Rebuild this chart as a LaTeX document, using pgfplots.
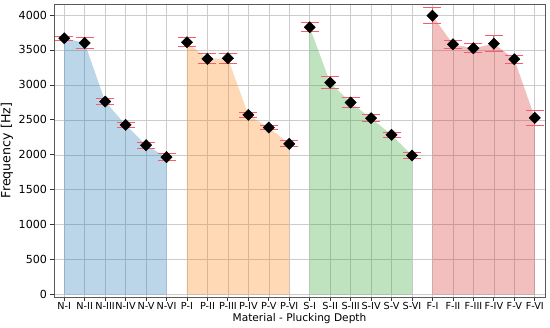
\documentclass[border=0pt]{standalone}
\usepackage{pgfplots}
\pgfplotsset{compat=1.18}
\usepackage{fontspec}
\setmainfont{DejaVu Sans}
\definecolor{tabblue}{HTML}{1F77B4}
\definecolor{taborange}{HTML}{FF7F0E}
\definecolor{tabgreen}{HTML}{2CA02C}
\definecolor{tabred}{HTML}{D62728}
\definecolor{errc}{HTML}{F0606E}
\begin{document}
\begin{tikzpicture}
\useasboundingbox (-54bp,-31bp) rectangle (496bp,297bp);
\begin{axis}[
  scale only axis, width=491bp, height=293bp,
  xmin=-0.5, xmax=23.5, ymin=-33, ymax=4157,
  xtick={0,...,23},
  xticklabels={N-I,N-II,N-III,N-IV,N-V,N-VI,P-I,P-II,P-III,P-IV,P-V,P-VI,S-I,S-II,S-III,S-IV,S-V,S-VI,F-I,F-II,F-III,F-IV,F-V,F-VI},
  ytick={0,500,...,4000},
  /pgf/number format/assume math mode=true,
  /pgf/number format/set thousands separator={},
  xticklabel style={font=\fontsize{9.7bp}{10bp}\selectfont, inner sep=1.5bp},
  yticklabel style={font=\fontsize{11.1bp}{12bp}\selectfont},
  xlabel={Material - Plucking Depth},
  ylabel={Frequency [Hz]},
  xlabel style={font=\fontsize{10.6bp}{12bp}\selectfont, yshift=1bp},
  ylabel style={font=\fontsize{12.6bp}{13bp}\selectfont, yshift=-1bp},
  grid=major,
  grid style={gray!40, line width=0.6bp},
  axis line style={black!65, line width=0.8bp},
  tick align=outside, xtick pos=left, ytick pos=left,
  major tick length=3.5bp,
  tick style={black!80, line width=0.8bp},
]
\addplot[fill=tabblue, fill opacity=0.3, draw=none] coordinates {(0,0) (0,3667) (1,3600) (2,2762) (3,2429) (4,2138) (5,1967) (5,0)} -- cycle;
\addplot[fill=taborange, fill opacity=0.3, draw=none] coordinates {(6,0) (6,3610) (7,3371) (8,3381) (9,2571) (10,2390) (11,2157) (11,0)} -- cycle;
\addplot[fill=tabgreen, fill opacity=0.3, draw=none] coordinates {(12,0) (12,3824) (13,3033) (14,2748) (15,2524) (16,2286) (17,1990) (17,0)} -- cycle;
\addplot[fill=tabred, fill opacity=0.3, draw=none] coordinates {(18,0) (18,3990) (19,3581) (20,3524) (21,3590) (22,3367) (23,2529) (23,0)} -- cycle;
\addplot[only marks, mark=square*, mark size=4bp, mark options={rotate=45, fill=black, draw=black},
  error bars/.cd, y dir=both, y explicit,
  error bar style={errc, line width=1bp},
  error mark options={rotate=90, draw=errc, color=errc, mark size=9bp, line width=1bp}]
 coordinates {
 (0,3667) +- (0,30)
 (1,3600) +- (0,79)
 (2,2762) +- (0,48)
 (3,2429) +- (0,36)
 (4,2138) +- (0,43)
 (5,1967) +- (0,48)
 (6,3610) +- (0,62)
 (7,3371) +- (0,71)
 (8,3381) +- (0,74)
 (9,2571) +- (0,40)
 (10,2390) +- (0,26)
 (11,2157) +- (0,43)
 (12,3824) +- (0,64)
 (13,3033) +- (0,83)
 (14,2748) +- (0,71)
 (15,2524) +- (0,52)
 (16,2286) +- (0,38)
 (17,1990) +- (0,48)
 (18,3990) +- (0,114)
 (19,3581) +- (0,57)
 (20,3524) +- (0,62)
 (21,3590) +- (0,114)
 (22,3367) +- (0,57)
 (23,2529) +- (0,112)
 };
\end{axis}
\end{tikzpicture}
\end{document}
